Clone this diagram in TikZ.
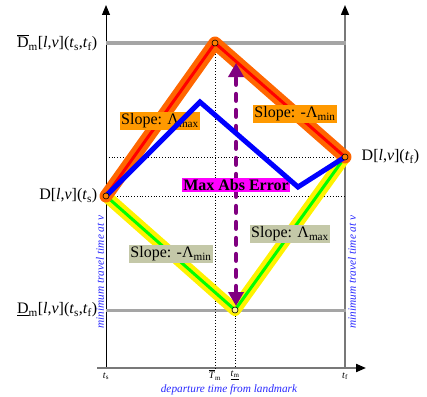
\documentclass[tikz,border=0pt]{standalone}
\usepackage{fontspec}
\setmainfont{Liberation Serif}
\usetikzlibrary{arrows.meta}
\definecolor{wideorange}{RGB}{255,102,0}
\definecolor{boxorange}{RGB}{255,153,0}
\definecolor{boxsage}{RGB}{196,200,168}
\definecolor{axisgray}{RGB}{120,120,120}
\definecolor{levelgray}{RGB}{165,165,165}
\definecolor{textblue}{RGB}{40,40,255}
\definecolor{arrowpurple}{RGB}{128,0,128}
\definecolor{maebox}{RGB}{255,0,255}
\tikzset{
  lbl/.style={font=\fontsize{16}{18}\selectfont, inner sep=1.5pt},
  slopebox/.style={lbl, fill=boxorange},
  sagebox/.style={lbl, fill=boxsage},
  axislabel/.style={font=\fontsize{11.3}{13}\selectfont\itshape, text=textblue, inner sep=1pt},
  ticklabel/.style={font=\fontsize{10}{12}\selectfont, inner sep=0.5pt},
  vertex/.style={circle, draw=black, line width=0.6pt, inner sep=0pt, minimum size=6pt},
  guide/.style={dotted, line width=0.8pt, black},
}
\begin{document}
\begin{tikzpicture}[x=1pt,y=-1pt]
\useasboundingbox (0,0) rectangle (427,396);
% key points
\coordinate (L) at (106,196);
\coordinate (T) at (215,43);
\coordinate (R) at (345,157);
\coordinate (B) at (235,310);
\coordinate (P1) at (200,102);
\coordinate (P2) at (298,187);
% axes
\coordinate (ylb) at (106,368);
\coordinate (ylt) at (106,5);
\coordinate (yrb) at (345,368);
\coordinate (yrt) at (345,5);
\coordinate (xa) at (97,368);
\coordinate (xb) at (366,368);
\draw[black, line width=1pt, -{Triangle[width=8pt,length=10pt]}] (ylb) -- (ylt);
\draw[axisgray, line width=1.5pt, -{Triangle[width=8pt,length=10pt,color=black]}] (yrb) -- (yrt);
\draw[axisgray, line width=2pt, -{Triangle[width=8pt,length=10pt,color=black]}] (xa) -- (xb);
% level lines
\coordinate (Tl) at (106,43);
\coordinate (Tr) at (346,43);
\coordinate (Bl) at (106,310);
\coordinate (Br) at (346,310);
\draw[levelgray, line width=3pt] (Tl) -- (Tr);
\draw[levelgray, line width=3pt] (Bl) -- (Br);
% guides
\coordinate (Rl) at (106,157);
\coordinate (Lr) at (345,196);
\coordinate (Tx) at (215,368);
\coordinate (Bx) at (235,368);
\draw[guide] (Rl) -- (R);
\draw[guide] (L) -- (Lr);
\draw[guide] (T) -- (Tx);
\draw[guide] (B) -- (Bx);
% lower bound path
\draw[yellow, line width=12pt, line cap=round, line join=round] (L) -- (B) -- (R);
\draw[green, line width=3pt, line join=round] (L) -- (B) -- (R);
% upper bound path
\draw[wideorange, line width=13pt, line cap=round, line join=round] (L) -- (T) -- (R);
\draw[red, line width=3pt, line join=round] (L) -- (T) -- (R);
% error arrow
\coordinate (ea) at (236,306);
\coordinate (eb) at (236,63);
\draw[arrowpurple, line width=4pt, line cap=round, dash pattern=on 7pt off 9pt,
  {Triangle[width=15pt,length=14pt]}-{Triangle[width=15pt,length=14pt]}] (ea) -- (eb);
% slope labels
\node[slopebox] (s1) at (160,121) {Slope: Λ\textsubscript{max}};
\node[slopebox] (s2) at (295,114) {Slope: -Λ\textsubscript{min}};
\node[sagebox] (s3) at (171,254) {Slope: -Λ\textsubscript{min}};
\node[sagebox] (s4) at (290,234) {Slope: Λ\textsubscript{max}};
\node[lbl, fill=maebox, font=\fontsize{16}{18}\selectfont\bfseries] (mae) at (236,185) {Max Abs Error};
% actual path
\draw[blue, line width=5pt, line join=miter] (L) -- (P1) -- (P2) -- (R);
% vertices
\node[vertex, fill=orange] (vT) at (T) {};
\node[vertex, fill=orange] (vL) at (L) {};
\node[vertex, fill=orange] (vR) at (R) {};
\node[vertex, fill=yellow!40] (vB) at (B) {};
% value labels
\node[lbl, anchor=east] (dmax) at (99,43) {$\overline{\hbox{D}}$\textsubscript{m}[\textit{l},\textit{v}](\textit{t}\textsubscript{s},\textit{t}\textsubscript{f})};
\node[lbl, anchor=east] (dts) at (99,196) {D[\textit{l},\textit{v}](\textit{t}\textsubscript{s})};
\node[lbl, anchor=east] (dmin) at (99,310) {\underline{D}\textsubscript{m}[\textit{l},\textit{v}](\textit{t}\textsubscript{s},\textit{t}\textsubscript{f})};
\node[lbl, anchor=west] (dtf) at (360,157) {D[\textit{l},\textit{v}](\textit{t}\textsubscript{f})};
% axis labels
\node[axislabel, rotate=90] (yl) at (100,272) {minimum travel time at v};
\node[axislabel, rotate=90] (yr) at (352,272) {minimum travel time at v};
\node[axislabel] (xl) at (229,389.5) {departure time from landmark};
% ticks
\node[ticklabel] (ts) at (106,376) {\textit{t}\textsubscript{s}};
\node[ticklabel] (Tm) at (215,375) {$\overline{\hbox{\textit{T}}}$\textsubscript{m}};
\node[ticklabel] (tm) at (235,375) {\underline{\textit{t}\textsubscript{m}}};
\node[ticklabel] (tf) at (345,376) {\textit{t}\textsubscript{f}};
\end{tikzpicture}
\end{document}
